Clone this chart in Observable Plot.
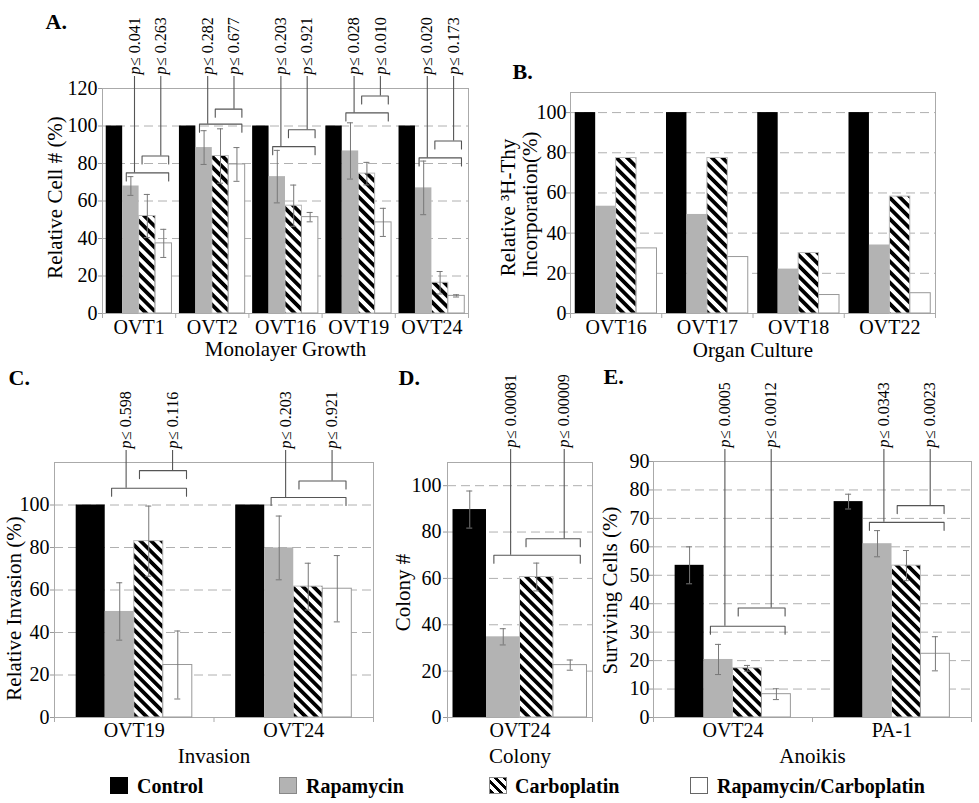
<!DOCTYPE html>
<html><head><meta charset="utf-8">
<script src="https://cdn.jsdelivr.net/npm/d3@7"></script>
<script src="https://cdn.jsdelivr.net/npm/@observablehq/plot@0.6"></script>
<style>
body{margin:0;background:#fff;overflow:hidden}
#page{position:relative;width:979px;height:803px;background:#fff;font-family:'Liberation Serif','Times New Roman',serif}
.lg-box{position:absolute;top:777px;width:18px;height:17px;box-sizing:border-box}
.lg-txt{position:absolute;top:776px;height:20px;line-height:20px;font-weight:bold;font-size:20px;white-space:nowrap;color:#000}
</style></head><body>
<div id="page">
<svg width="0" height="0" style="position:absolute">
<defs><pattern id="hatch" patternUnits="userSpaceOnUse" width="7.5" height="7.5" patternTransform="rotate(-45)"><rect width="7.5" height="7.5" fill="#fff"/><rect width="3.75" height="7.5" fill="#000"/></pattern></defs></svg>
</div>
<script>
// ---------- DATA ----------
const seriesNames = ["Control", "Rapamycin", "Carboplatin", "Rapamycin/Carboplatin"];

// A. Monolayer Growth
const groupsA = ["OVT1", "OVT2", "OVT16", "OVT19", "OVT24"];
const controlA = [100, 100, 100, 100, 100];
const rapaA = [68, 88.5, 73, 86.7, 67];
const carboA = [52, 84, 57.5, 74.6, 16.4];
const comboA = [37.4, 79.5, 51.4, 48.6, 9.4];
const rapaErrA = [5, 9, 14, 15, 14.3];
const carboErrA = [11.5, 14.5, 11, 6, 6];
const comboErrA = [7.5, 9, 2.5, 7.5, 0.6];
const pRapaA = ["0.041", "0.282", "0.203", "0.028", "0.020"];
const pCarboA = ["0.263", "0.677", "0.921", "0.010", "0.173"];
const bracketRapaA = [75, 101, 89, 107, 83];
const bracketCarboA = [84, 109, 98, 116, 92];
const yTicksA = [0, 20, 40, 60, 80, 100, 120];

// B. Organ Culture
const groupsB = ["OVT16", "OVT17", "OVT18", "OVT22"];
const controlB = [100, 100, 100, 100];
const rapaB = [53.4, 49.3, 22.1, 34.1];
const carboB = [77.4, 77.4, 30.1, 58.2];
const comboB = [32.4, 28.1, 9.2, 10.1];
const yTicksB = [0, 20, 40, 60, 80, 100];

// C. Invasion
const groupsC = ["OVT19", "OVT24"];
const controlC = [100, 100];
const rapaC = [49.9, 79.8];
const carboC = [83, 61.6];
const comboC = [24.7, 60.6];
const rapaErrC = [13.5, 15];
const carboErrC = [16.5, 11];
const comboErrC = [16, 15.6];
const pRapaC = ["0.598", "0.203"];
const pCarboC = ["0.116", "0.921"];
const bracketRapaC = [107.9, 103.5];
const bracketCarboC = [116.2, 111.3];
const yTicksC = [0, 20, 40, 60, 80, 100];

// D. Colony
const groupsD = ["OVT24"];
const controlD = [89.7];
const rapaD = [34.8];
const carboD = [60.6];
const comboD = [22.6];
const controlErrD = [8];
const rapaErrD = [3.5];
const carboErrD = [6];
const comboErrD = [2.2];
const pRapaD = ["0.00081"];
const pCarboD = ["0.00009"];
const bracketRapaD = [70];
const bracketCarboD = [77.1];
const yTicksD = [0, 20, 40, 60, 80, 100];

// E. Anoikis
const groupsE = ["OVT24", "PA-1"];
const controlE = [53.5, 75.9];
const rapaE = [20.4, 61.1];
const carboE = [17.3, 53.4];
const comboE = [8.2, 22.4];
const controlErrE = [6.5, 2.6];
const rapaErrE = [5.3, 4.6];
const carboErrE = [1, 5.3];
const comboErrE = [1.9, 6];
const pRapaE = ["0.0005", "0.0343"];
const pCarboE = ["0.0012", "0.0023"];
const bracketRapaE = [32.1, 68.6];
const bracketCarboE = [38.5, 74.5];
const yTicksE = [0, 10, 20, 30, 40, 50, 60, 70, 80, 90];

// ---------- STYLE ----------
const FILLS = ["#000", "#b3b3b3", "url(#hatch)", "#fff"];
const STROKES = ["none", "none", "#bbb", "#999"];
const BR_L = [1.22, 2.18], BR_R = 3.8, LEAD = [1.72, 3.32];
const W = 979, H = 803;
const FONT = "background: transparent; font-family: 'Liberation Serif','Times New Roman',serif; font-size: 20px; position: absolute; left: 0; top: 0;";

function panel(cfg) {
  const [l, t, r, b] = cfg.frame;
  const n = cfg.groups.length, yMax = cfg.yMax;
  const bw = cfg.barFrac, pad = (1 - 4 * bw) / 2;
  const pxY = (b - t) / yMax, pxG = (r - l) / n;
  const rows = [];
  cfg.groups.forEach((g, i) => cfg.values.forEach((arr, j) =>
    rows.push({i, j, v: arr[i], e: cfg.errors[j] ? cfg.errors[j][i] : 0})));
  const X1 = d => d.i + pad + d.j * bw;
  const X2 = d => d.i + pad + (d.j + 1) * bw;
  const XC = d => d.i + pad + (d.j + 0.5) * bw;
  const cap = 3 / pxG;
  const errRows = rows.filter(d => d.e > 0);
  const marks = [
    Plot.ruleY(cfg.grid, {stroke: "#b0b0b0", strokeDasharray: "9,5"}),
    Plot.frame({stroke: "#aaa"}),
    ...[0, 1, 2, 3].map(j => Plot.rect(rows.filter(d => d.j === j),
      {x1: X1, x2: X2, y1: () => 0, y2: "v", fill: FILLS[j], stroke: STROKES[j], strokeWidth: 1})),
    Plot.ruleX(errRows, {x: XC, y1: d => d.v - d.e, y2: d => d.v + d.e, stroke: "#777"}),
    Plot.ruleY(errRows, {y: d => d.v + d.e, x1: d => XC(d) - cap, x2: d => XC(d) + cap, stroke: "#777"}),
    Plot.ruleY(errRows, {y: d => d.v - d.e, x1: d => XC(d) - cap, x2: d => XC(d) + cap, stroke: "#777"})
  ];
  if (cfg.brackets) {
    const dd = 8 / pxY;
    const pts = [], leads = [];
    const topY = yMax + (t - cfg.leaderTopPx) / pxY;
    cfg.brackets.forEach((hs, k) => hs.forEach((h, i) => {
      const xl = i + pad + BR_L[k] * bw, xr = i + pad + BR_R * bw, z = i + "-" + k;
      pts.push({x: xl, y: h - dd, z}, {x: xl, y: h, z}, {x: xr, y: h, z}, {x: xr, y: h - dd, z});
      leads.push({x: i + pad + LEAD[k] * bw, h, p: cfg.pvals[k][i], top: topY});
    }));
    marks.push(
      Plot.line(pts, {x: "x", y: "y", z: "z", stroke: "#555", strokeWidth: 1.1}),
      Plot.ruleX(leads, {x: "x", y1: "h", y2: "top", stroke: "#555", strokeWidth: 1.1}),
      Plot.text(leads, {x: "x", y: "top", text: () => "p", rotate: -90, textAnchor: "start", lineAnchor: "middle", fontStyle: "italic", fontSize: 16, dy: -2}),
      Plot.text(leads, {x: "x", y: "top", text: d => "\u2264 " + d.p, rotate: -90, textAnchor: "start", lineAnchor: "middle", fontSize: 16, dy: -10.5})
    );
  }
  marks.push(
    Plot.axisY({ticks: cfg.yTicks, tickSize: 4, tickFormat: () => "", stroke: "#999", label: null}),
    Plot.axisY({ticks: cfg.yTicks, tickSize: 0, tickPadding: cfg.yPad, fontSize: 20, label: null}),
    Plot.axisX({ticks: d3.range(n + 1), tickSize: 5, tickFormat: () => "", stroke: "#aaa", label: null}),
    Plot.axisX({ticks: cfg.groups.map((g, i) => i + 0.5), tickSize: 0, tickPadding: cfg.xPad,
      tickFormat: v => cfg.groups[Math.floor(v)], fontSize: 20, label: null}),
    ...cfg.yLabel.map(o => Plot.text([o], {frameAnchor: "top-left", dx: o.x - l, dy: o.y - t, text: "text",
      rotate: -90, textAnchor: "middle", lineAnchor: "middle", fontSize: 21})),
    Plot.text([cfg.xLabel], {frameAnchor: "bottom", text: d => d, textAnchor: "middle", lineAnchor: "middle",
      fontSize: 21, dy: cfg.xLabelBase - b - 0.32 * 21}),
    Plot.text([cfg.letter[0]], {frameAnchor: "top-left", text: d => d, textAnchor: "start", lineAnchor: "middle",
      fontWeight: "bold", fontSize: 22, dx: cfg.letter[1] - l, dy: cfg.letter[2] - 0.32 * 22 - t})
  );
  const svg = Plot.plot({
    width: W, height: H,
    marginLeft: l, marginRight: W - r, marginTop: t, marginBottom: H - b,
    x: {domain: [0, n]},
    y: {domain: [0, yMax]},
    style: FONT,
    marks
  });
  svg.style.position = "absolute"; svg.style.left = "0px"; svg.style.top = "0px";
  document.getElementById("page").appendChild(svg);
}

panel({
  frame: [102, 88, 468, 313], yMax: 120, groups: groupsA,
  values: [controlA, rapaA, carboA, comboA], errors: [null, rapaErrA, carboErrA, comboErrA],
  barFrac: 0.2245, yTicks: yTicksA, grid: [20, 40, 60, 80, 100], yPad: 5, xPad: 5.8,
  brackets: [bracketRapaA, bracketCarboA], pvals: [pRapaA, pCarboA], leaderTopPx: 76,
  yLabel: [{text: "Relative Cell # (%)", x: 55, y: 197}],
  xLabel: "Monolayer Growth", xLabelBase: 355, letter: ["A.", 45, 28]
});
panel({
  frame: [570, 92, 935, 313], yMax: 110, groups: groupsB,
  values: [controlB, rapaB, carboB, comboB], errors: [null, null, null, null],
  barFrac: 0.224, yTicks: yTicksB, grid: [20, 40, 60, 80, 100], yPad: 4, xPad: 6.5,
  yLabel: [{text: "Relative \u00B3H-Thy", x: 508, y: 207}, {text: "Incorporation(%)", x: 530, y: 204}],
  xLabel: "Organ Culture", xLabelBase: 356, letter: ["B.", 512, 78]
});
panel({
  frame: [54, 462, 373, 717], yMax: 120, groups: groupsC,
  values: [controlC, rapaC, carboC, comboC], errors: [null, rapaErrC, carboErrC, comboErrC],
  barFrac: 0.182, yTicks: yTicksC, grid: [20, 40, 60, 80, 100], yPad: 5, xPad: 4.8,
  brackets: [bracketRapaC, bracketCarboC], pvals: [pRapaC, pCarboC], leaderTopPx: 450,
  yLabel: [{text: "Relative Invasion (%)", x: 14, y: 608}],
  xLabel: "Invasion", xLabelBase: 762, letter: ["C.", 8, 384]
});
panel({
  frame: [447, 462, 592, 717], yMax: 110, groups: groupsD,
  values: [controlD, rapaD, carboD, comboD], errors: [controlErrD, rapaErrD, carboErrD, comboErrD],
  barFrac: 0.231, yTicks: yTicksD, grid: [20, 40, 60, 80, 100], yPad: 6, xPad: 4.8,
  brackets: [bracketRapaD, bracketCarboD], pvals: [pRapaD, pCarboD], leaderTopPx: 449,
  yLabel: [{text: "Colony #", x: 403, y: 592}],
  xLabel: "Colony", xLabelBase: 762, letter: ["D.", 398, 384]
});
panel({
  frame: [653, 461, 971, 717], yMax: 90, groups: groupsE,
  values: [controlE, rapaE, carboE, comboE], errors: [controlErrE, rapaErrE, carboErrE, comboErrE],
  barFrac: 0.182, yTicks: yTicksE, grid: [10, 20, 30, 40, 50, 60, 70, 80], yPad: 4, xPad: 4.8,
  brackets: [bracketRapaE, bracketCarboE], pvals: [pRapaE, pCarboE], leaderTopPx: 449,
  yLabel: [{text: "Surviving Cells (%)", x: 610, y: 590}],
  xLabel: "Anoikis", xLabelBase: 762, letter: ["E.", 603, 383]
});

// ---------- LEGEND ----------
const legendBox = [
  "background:#000;",
  "background:#b3b3b3;border:1px solid #888;",
  "background:repeating-linear-gradient(45deg,#000 0 3.2px,#fff 3.2px 6.4px);border:1px solid #888;",
  "background:#fff;border:1px solid #666;"
];
const legendX = [[110, 137], [279, 306], [489, 515], [690, 717]];
const page = document.getElementById("page");
seriesNames.forEach((name, j) => {
  const box = document.createElement("div");
  box.className = "lg-box"; box.style.cssText += "left:" + legendX[j][0] + "px;" + legendBox[j];
  page.appendChild(box);
  const txt = document.createElement("div");
  txt.className = "lg-txt"; txt.style.left = legendX[j][1] + "px"; txt.textContent = name;
  page.appendChild(txt);
});
</script>
</body></html>
